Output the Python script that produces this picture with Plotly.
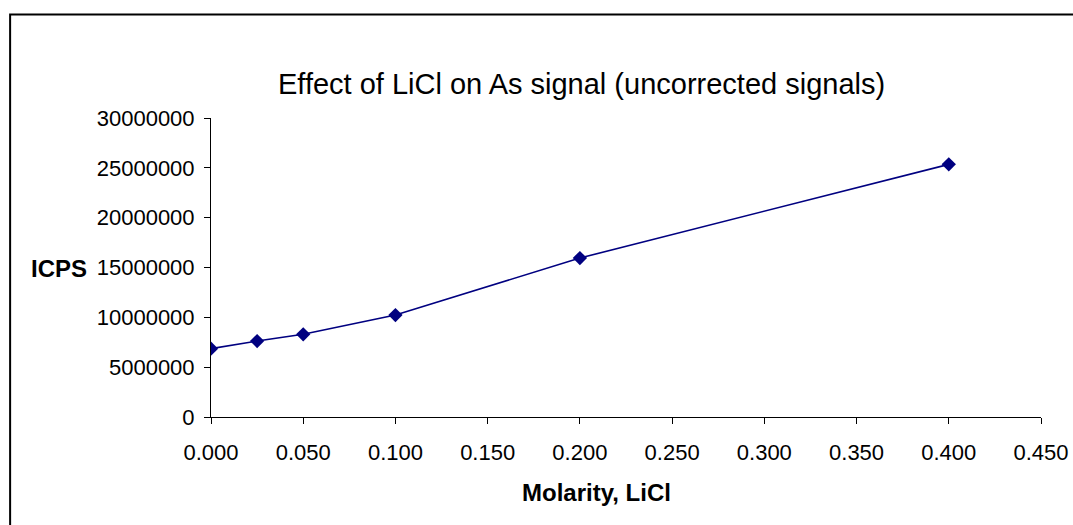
import plotly.graph_objects as go

# LiCl molarity vs uncorrected As signal (ICPS)
molarity = [0.000, 0.025, 0.050, 0.100, 0.200, 0.400]
icps = [6860000, 7620000, 8300000, 10230000, 15950000, 25350000]

x_ticks = [0.0, 0.05, 0.10, 0.15, 0.20, 0.25, 0.30, 0.35, 0.40, 0.45]
y_ticks = [0, 5000000, 10000000, 15000000, 20000000, 25000000, 30000000]

W, H = 1073, 525
L, R, T, B = 211, 31.5, 117.5, 108.3
plot_w = W - L - R
plot_h = H - T - B


def px_to_paper_x(px):
    return (px - L) / plot_w


def px_to_paper_y(py):
    return (H - B - py) / plot_h


FONT = "Liberation Sans, Arial, sans-serif"

fig = go.Figure()
fig.add_trace(
    go.Scatter(
        x=molarity,
        y=icps,
        mode="lines+markers",
        line=dict(color="#000080", width=1.6),
        marker=dict(symbol="diamond", size=11, color="#000080"),
        showlegend=False,
        hoverinfo="x+y",
    )
)

axis_common = dict(
    showgrid=False,
    zeroline=False,
    showline=True,
    linecolor="#000000",
    linewidth=1,
    ticks="outside",
    tickcolor="#000000",
    ticklen=6,
    tickfont=dict(family=FONT, size=22, color="#000000"),
    automargin=False,
)

fig.update_xaxes(
    range=[0, 0.45],
    tickvals=x_ticks,
    tickformat=".3f",
    ticklabelstandoff=10,
    **axis_common,
)
fig.update_yaxes(
    range=[0, 30000000],
    tickvals=y_ticks,
    tickformat="d",
    ticklabelstandoff=5,
    **axis_common,
)

# outer chart frame (only left/top edges fall inside the picture)
fig.add_shape(
    type="rect",
    xref="paper",
    yref="paper",
    x0=px_to_paper_x(10),
    x1=px_to_paper_x(1080),
    y0=px_to_paper_y(530),
    y1=px_to_paper_y(14),
    line=dict(color="#000000", width=2),
    layer="below",
)

fig.add_annotation(
    text="Effect of LiCl on As signal (uncorrected signals)",
    xref="paper",
    yref="paper",
    x=px_to_paper_x(582),
    y=px_to_paper_y(83),
    xanchor="center",
    yanchor="middle",
    showarrow=False,
    font=dict(family=FONT, size=29, color="#000000"),
)
fig.add_annotation(
    text="<b>ICPS</b>",
    xref="paper",
    yref="paper",
    x=px_to_paper_x(89),
    y=px_to_paper_y(268),
    xanchor="right",
    yanchor="middle",
    showarrow=False,
    font=dict(family=FONT, size=24, color="#000000"),
)
fig.add_annotation(
    text="<b>Molarity, LiCl</b>",
    xref="paper",
    yref="paper",
    x=px_to_paper_x(597),
    y=px_to_paper_y(492),
    xanchor="center",
    yanchor="middle",
    showarrow=False,
    font=dict(family=FONT, size=24, color="#000000"),
)

fig.update_layout(
    width=W,
    height=H,
    margin=dict(l=L, r=R, t=T, b=B, pad=0, autoexpand=False),
    paper_bgcolor="#ffffff",
    plot_bgcolor="#ffffff",
    font=dict(family=FONT, color="#000000"),
)

# the default page has an 8px body margin; drop it so the figure fills the window
fig.write_html(
    "out.html",
    config={"displayModeBar": False},
    post_script="document.body.style.margin = '0';",
)
